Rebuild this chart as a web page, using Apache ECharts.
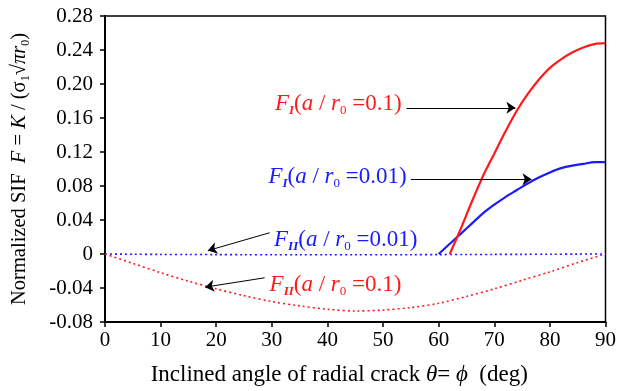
<!DOCTYPE html>
<html>
<head>
<meta charset="utf-8">
<script src="https://cdn.jsdelivr.net/npm/echarts@6/dist/echarts.min.js"></script>
<style>
  html, body { margin: 0; padding: 0; background: #fff; }
  #chart { width: 619px; height: 391px; }
</style>
</head>
<body>
<div id="chart"></div>
<script>
// F_II curves (dotted), read every 5 deg
const angleII = [0, 5, 10, 15, 20, 25, 30, 35, 40, 45, 50, 55, 60, 65, 70, 75, 80, 85, 90];
const fII_01 = [0, -0.011, -0.022, -0.032, -0.041, -0.049, -0.056, -0.061, -0.065, -0.067, -0.066, -0.063, -0.058, -0.05, -0.041, -0.031, -0.021, -0.010, 0];
const fII_001 = [0, -0.0003, -0.0005, -0.0006, -0.0007, -0.0008, -0.0008, -0.0008, -0.0008, -0.0008, -0.0008, -0.0008, -0.0007, -0.0006, -0.0005, -0.0004, -0.0003, -0.0001, 0];

// F_I curves (solid)
const angleI_01 = [62, 63, 64, 66, 68, 70, 72, 74, 76, 78, 80, 82, 84, 86, 88, 90];
const fI_01 = [0, 0.015, 0.03, 0.062, 0.092, 0.118, 0.144, 0.168, 0.188, 0.205, 0.219, 0.229, 0.237, 0.243, 0.247, 0.248];
const angleI_001 = [60, 62, 64, 66, 68, 70, 72, 74, 76, 78, 80, 82, 84, 86, 88, 90];
const fI_001 = [0, 0.012, 0.024, 0.036, 0.048, 0.058, 0.067, 0.075, 0.083, 0.09, 0.096, 0.101, 0.104, 0.106, 0.108, 0.108];

const xTicks = [0, 10, 20, 30, 40, 50, 60, 70, 80, 90];
const yTicks = [-0.08, -0.04, 0, 0.04, 0.08, 0.12, 0.16, 0.20, 0.24, 0.28];

// annotation arrows [from, to] in data coords
const arrows = [
  [[54.2, 0.172], [73.8, 0.172]],
  [[55.0, 0.088], [76.7, 0.088]],
  [[29.6, 0.025], [18.5, 0.004]],
  [[28.7, -0.028], [18.0, -0.039]]
];

const serif = 'Liberation Serif';
const RED = '#ff1a1a';
const BLUE = '#1a1aff';

function zip(xs, ys) {
  return xs.map((x, i) => [x, ys[i]]);
}

let myChart = echarts.init(document.getElementById('chart'));

let option = {
  animation: false,
  grid: {
    left: 105, right: 13, top: 16, bottom: 69,
    show: true, borderColor: '#000', borderWidth: 1.5
  },
  xAxis: {
    type: 'value',
    min: xTicks[0], max: xTicks[xTicks.length - 1], interval: 10,
    axisLine: { onZero: false, lineStyle: { color: '#000', width: 2 } },
    axisTick: { length: 5, lineStyle: { color: '#000', width: 1.5 } },
    axisLabel: { fontFamily: serif, fontSize: 21, color: '#000', margin: 8 },
    splitLine: { show: false },
    name: '{n|Inclined angle of radial crack }{i|θ}{n|= }{i|ϕ}{n|  (deg)}',
    nameLocation: 'middle',
    nameGap: 41,
    nameTextStyle: {
      padding: [0, 32, 0, 0],
      rich: {
        n: { fontFamily: serif, fontSize: 23, color: '#000' },
        i: { fontFamily: serif, fontSize: 23, color: '#000', fontStyle: 'italic' }
      }
    }
  },
  yAxis: {
    type: 'value',
    min: yTicks[0], max: yTicks[yTicks.length - 1], interval: 0.04,
    axisLine: { onZero: false, lineStyle: { color: '#000', width: 2 } },
    axisTick: { length: 5, lineStyle: { color: '#000', width: 1.5 } },
    axisLabel: {
      fontFamily: serif, fontSize: 21, color: '#000', margin: 12,
      formatter: v => Math.abs(v) < 1e-9 ? '0' : v.toFixed(2)
    },
    splitLine: { show: false },
    name: '{n|Normalized SIF  }{i|F}{n| = }{i|K}{n| / (σ}{s|1}{n|√}{i|πr}{s|0}{n|)}',
    nameLocation: 'middle',
    nameRotate: 90,
    nameGap: 73,
    nameTextStyle: {
      rich: {
        n: { fontFamily: serif, fontSize: 20.5, color: '#000', lineHeight: 24 },
        i: { fontFamily: serif, fontSize: 20.5, color: '#000', fontStyle: 'italic', lineHeight: 24 },
        s: { fontFamily: serif, fontSize: 12, color: '#000', lineHeight: 12, padding: [12, 0, 0, 0] }
      }
    }
  },
  series: [
    {
      name: 'FII 0.01', type: 'line', showSymbol: false, smooth: 0.3,
      data: zip(angleII, fII_001),
      lineStyle: { color: BLUE, width: 1.6, type: [2, 3] }
    },
    {
      name: 'FII 0.1', type: 'line', showSymbol: false, smooth: 0.3,
      data: zip(angleII, fII_01),
      lineStyle: { color: RED, width: 1.6, type: [2, 3] }
    },
    {
      name: 'FI 0.01', type: 'line', showSymbol: false, smooth: 0.3,
      data: zip(angleI_001, fI_001),
      lineStyle: { color: BLUE, width: 2.2 }
    },
    {
      name: 'FI 0.1', type: 'line', showSymbol: false, smooth: 0.3,
      data: zip(angleI_01, fI_01),
      lineStyle: { color: RED, width: 2.2 }
    },
    {
      name: 'arrows', type: 'line', data: [],
      markLine: {
        silent: true,
        symbol: ['none', 'arrow'],
        symbolSize: 9,
        label: { show: false },
        lineStyle: { color: '#000', width: 1, type: 'solid' },
        data: arrows.map(a => [{ coord: a[0] }, { coord: a[1] }])
      }
    }
  ]
};

myChart.setOption(option);

// annotation labels, anchored in data coords
function richLabel(sub, ratio) {
  return '{i|F}{s|' + sub + '}{u|(}{i|a}{u| / }{i|r}{z|0}{u| =' + ratio + ')}';
}
const labelRich = (color) => ({
  i: { fontFamily: serif, fontSize: 23, fill: color, fontStyle: 'italic', lineHeight: 28 },
  u: { fontFamily: serif, fontSize: 23, fill: color, lineHeight: 28 },
  s: { fontFamily: serif, fontSize: 13, fill: color, fontStyle: 'italic', fontWeight: 'bold', lineHeight: 13, padding: [14, 0, 0, 0] },
  z: { fontFamily: serif, fontSize: 13, fill: color, lineHeight: 13, padding: [14, 0, 0, 0] }
});
const labels = [
  { at: [53.35, 0.177], align: 'right', text: richLabel('I', '0.1'), color: RED },
  { at: [54.25, 0.091], align: 'right', text: richLabel('I', '0.01'), color: BLUE },
  { at: [30.4, 0.017], align: 'left', text: richLabel('II', '0.01'), color: BLUE },
  { at: [29.6, -0.036], align: 'left', text: richLabel('II', '0.1'), color: RED }
];

function drawLabels() {
  myChart.setOption({
    graphic: labels.map(l => {
      const p = myChart.convertToPixel({ gridIndex: 0 }, l.at);
      return {
        type: 'text', x: p[0], y: p[1], silent: true,
        style: {
          text: l.text, align: l.align, verticalAlign: 'middle',
          rich: labelRich(l.color)
        }
      };
    })
  });
}
drawLabels();

window.addEventListener('resize', function () {
  myChart.resize();
  drawLabels();
}, false);
</script>
</body>
</html>
